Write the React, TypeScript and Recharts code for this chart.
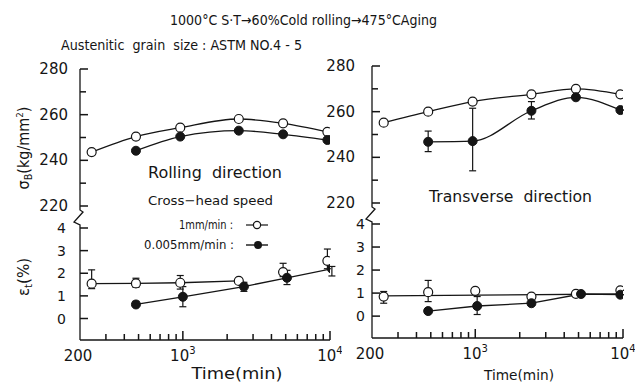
import React from 'react';
import { ComposedChart, Line, XAxis, YAxis, ErrorBar } from 'recharts';

const INK = '#151515';
const FONT = '"DejaVu Sans", "Liberation Sans", sans-serif';

// axes
const timeTicks = [200, 300, 400, 500, 600, 700, 800, 900, 1000, 2000, 3000, 4000, 5000, 6000, 7000, 8000, 9000, 10000];
const timeLabels: Record<number, string> = { 200: '200', 1000: '3', 10000: '4' };
const sigmaTicks = [220, 230, 240, 250, 260, 270, 280];
const epsTicks = [0, 1, 2, 3, 4];

// Rolling direction, tensile strength
const rollOpenTime = [240, 480, 960, 2400, 4800, 9600];
const rollOpenSigma = [243.6, 250.4, 254.3, 258.1, 256.2, 252.5];
const rollFillTime = [480, 960, 2400, 4800, 9600];
const rollFillSigma = [244.2, 250.4, 253.0, 251.4, 248.9];

// Rolling direction, elongation
const rollOpenEpsTime = [240, 480, 960, 2400, 4800, 9600];
const rollOpenEps = [1.54, 1.55, 1.58, 1.66, 2.05, 2.55];
const rollOpenEpsLo = [1.32, 1.38, 1.3, 1.66, 1.85, 2.2];
const rollOpenEpsHi = [2.15, 1.78, 1.9, 1.66, 2.44, 3.07];
const rollFillEpsTime = [480, 1000, 2600, 5100, 10300];
const rollFillEps = [0.62, 0.96, 1.41, 1.8, 2.2];
const rollFillEpsLo = [0.62, 0.52, 1.2, 1.5, 1.88];
const rollFillEpsHi = [0.76, 1.41, 1.6, 2.13, 2.3];

// Transverse direction, tensile strength
const transOpenTime = [240, 480, 960, 2400, 4800, 9600];
const transOpenSigma = [255.2, 260.0, 264.4, 267.6, 270.0, 267.6];
const transFillTime = [480, 960, 2400, 4800, 9600];
const transFillSigma = [246.8, 247.1, 260.4, 266.3, 260.7];
const transFillSigmaLo = [242.5, 234.1, 256.8, 266.3, 260.7];
const transFillSigmaHi = [251.5, 261.5, 264.4, 266.3, 260.7];

// Transverse direction, elongation
const transOpenEpsTime = [240, 480, 1000, 2400, 4800, 9600];
const transOpenEps = [0.85, 1.04, 1.1, 0.85, 0.97, 1.12];
const transOpenEpsLo = [0.56, 0.63, 1.1, 0.85, 0.97, 1.12];
const transOpenEpsHi = [1.07, 1.55, 1.1, 0.85, 0.97, 1.12];
const transOpenFitTime = [240, 9600];
const transOpenFit = [0.88, 0.96];
const transFillEpsTime = [480, 1030, 2400, 5200, 9600];
const transFillEps = [0.22, 0.44, 0.56, 0.96, 0.93];
const transFillEpsLo = [0.22, 0.07, 0.56, 0.96, 0.93];
const transFillEpsHi = [0.22, 0.85, 0.56, 0.96, 0.93];

const pts = (t: number[], v: number[], lo?: number[], hi?: number[]) =>
  t.map((x, i) => ({
    t: x,
    v: v[i],
    err: lo && hi ? [Math.max(0, v[i] - lo[i]), Math.max(0, hi[i] - v[i])] : [0, 0],
  }));

const openDot = { r: 4.5, fill: '#fff', stroke: INK, strokeWidth: 1.2 };
const fillDot = { r: 4.5, fill: INK, stroke: INK, strokeWidth: 1 };

const YW = 50;

const makeYTick = (size: number, every: number, gap: number) => (props: any) => {
  const { x, y, payload } = props;
  const v = payload.value;
  const lab = v % every === 0;
  return (
    <g>
      <rect x={x} y={y - 0.75} width={lab ? 8 : 6} height={1.5} fill={INK} />
      {lab && (
        <text x={x - gap} y={y} textAnchor="end" dominantBaseline="central" fontSize={size} fontFamily={FONT} fill={INK}>
          {v}
        </text>
      )}
    </g>
  );
};

const XTick = (props: any) => {
  const { x, y, payload } = props;
  const v = payload.value;
  const lab = timeLabels[v];
  const h = v === 1000 || v === 10000 ? 9 : 6;
  return (
    <g>
      {v !== 200 && <rect x={x - 0.75} y={y - h} width={1.5} height={h} fill={INK} />}
      {lab === '200' && (
        <text x={x - 2} y={y + 21} textAnchor="middle" fontSize={15} fontFamily={FONT} fill={INK}>200</text>
      )}
      {lab && lab !== '200' && (
        <text x={x} y={y + 21} textAnchor="middle" fontSize={15} fontFamily={FONT} fill={INK}>
          10<tspan dy={-7} fontSize={10}>{lab}</tspan>
        </text>
      )}
    </g>
  );
};

type Series = { data: any[]; dot: any; line?: boolean; curve?: 'monotone' | 'linear'; err?: boolean };

function Panel(props: {
  left: number; top: number; plotW: number; plotH: number;
  domain: number[]; ticks: number[]; bottom: boolean; tick: any; series: Series[];
}) {
  const { left, top, plotW, plotH, domain, ticks, bottom, tick, series } = props;
  const xh = bottom ? 40 : 0;
  const axis = { stroke: INK, strokeWidth: 1.3 };
  return (
    <div style={{ position: 'absolute', left: left - YW, top: top - 8 }}>
      <ComposedChart width={YW + plotW + 12} height={8 + plotH + xh + 8} margin={{ top: 8, right: 12, bottom: 8, left: 0 }}>
        <XAxis
          type="number" dataKey="t" scale="log" domain={[200, 10000]} allowDataOverflow
          ticks={timeTicks} interval={0} hide={!bottom} height={xh}
          axisLine={axis} tickLine={false} tickSize={0} tickMargin={0} tick={<XTick />}
        />
        <YAxis
          type="number" domain={domain} allowDataOverflow ticks={ticks} interval={0} width={YW}
          axisLine={axis} tickLine={false} tickSize={0} tickMargin={0} tick={tick}
        />
        {series.map((s, i) => (
          <Line
            key={i}
            data={s.data}
            dataKey="v"
            type={s.curve || 'linear'}
            stroke={s.line === false ? 'none' : INK}
            strokeWidth={1.3}
            dot={s.dot}
            activeDot={false}
            isAnimationActive={false}
          >
            {s.err && <ErrorBar dataKey="err" width={3.5} stroke={INK} strokeWidth={1.2} direction="y" />}
          </Line>
        ))}
      </ComposedChart>
    </div>
  );
}

export default function App() {
  const txt = { fontFamily: FONT, fill: INK } as const;
  return (
    <div style={{ position: 'absolute', left: 0, top: 0, width: 637, height: 385, background: '#fff', overflow: 'hidden' }}>
      {/* Rolling direction */}
      <Panel
        left={80} top={69} plotW={250} plotH={137} domain={[220, 280]} ticks={sigmaTicks} bottom={false}
        tick={makeYTick(15, 20, 12)}
        series={[
          { data: pts(rollOpenTime, rollOpenSigma), dot: openDot, curve: 'monotone' },
          { data: pts(rollFillTime, rollFillSigma), dot: fillDot, curve: 'monotone' },
        ]}
      />
      <Panel
        left={80} top={228} plotW={250} plotH={112} domain={[-0.95, 4]} ticks={epsTicks} bottom
        tick={makeYTick(14, 1, 14)}
        series={[
          { data: pts(rollOpenEpsTime.slice(0, 4), rollOpenEps.slice(0, 4), rollOpenEpsLo.slice(0, 4), rollOpenEpsHi.slice(0, 4)), dot: openDot, err: true },
          { data: pts(rollOpenEpsTime.slice(4), rollOpenEps.slice(4), rollOpenEpsLo.slice(4), rollOpenEpsHi.slice(4)), dot: openDot, line: false, err: true },
          { data: pts(rollFillEpsTime, rollFillEps, rollFillEpsLo, rollFillEpsHi), dot: fillDot, err: true },
        ]}
      />
      {/* Transverse direction */}
      <Panel
        left={372} top={66} plotW={251} plotH={137} domain={[220, 280]} ticks={sigmaTicks} bottom={false}
        tick={makeYTick(15, 20, 17)}
        series={[
          { data: pts(transOpenTime, transOpenSigma), dot: openDot, curve: 'monotone' },
          { data: pts(transFillTime, transFillSigma, transFillSigmaLo, transFillSigmaHi), dot: fillDot, curve: 'monotone', err: true },
        ]}
      />
      <Panel
        left={372} top={224} plotW={251} plotH={114} domain={[-0.95, 4]} ticks={epsTicks} bottom
        tick={makeYTick(14, 1, 7)}
        series={[
          { data: pts(transOpenFitTime, transOpenFit), dot: false },
          { data: pts(transOpenEpsTime, transOpenEps, transOpenEpsLo, transOpenEpsHi), dot: openDot, line: false, err: true },
          { data: pts(transFillEpsTime, transFillEps, transFillEpsLo, transFillEpsHi), dot: fillDot, err: true },
        ]}
      />

      {/* annotations */}
      <svg width={637} height={385} style={{ position: 'absolute', left: 0, top: 0, pointerEvents: 'none' }}>
        <text x={170} y={25} fontSize={14} textLength={267} lengthAdjust="spacingAndGlyphs" {...txt}>
          1000°C S·T→60%Cold rolling→475°CAging
        </text>
        <text x={61} y={50} fontSize={14} textLength={241} lengthAdjust="spacingAndGlyphs" xmlSpace="preserve" {...txt}>
          Austenitic  grain  size : ASTM NO.4 - 5
        </text>

        <path d="M80 206 L80 210 L83 212 L74 222 L80 225 L80 228" fill="none" stroke={INK} strokeWidth={1.3} />
        <path d="M372 203 L372 207 L375 209 L366 219 L372 222 L372 224" fill="none" stroke={INK} strokeWidth={1.3} />

        <text transform="translate(29 148) rotate(-90)" textAnchor="middle" fontSize={15} textLength={83} lengthAdjust="spacingAndGlyphs" {...txt}>
          σ<tspan fontSize={10} dy={3}>B</tspan><tspan dy={-3}>(kg/mm</tspan><tspan fontSize={9} dy={-6}>2</tspan><tspan dy={6}>)</tspan>
        </text>
        <text transform="translate(29 277) rotate(-90)" textAnchor="middle" fontSize={15} {...txt}>
          ε<tspan fontSize={10} dy={3}>t</tspan><tspan dy={-3}>(%)</tspan>
        </text>

        <text x={148} y={178} fontSize={16} textLength={134} lengthAdjust="spacingAndGlyphs" xmlSpace="preserve" {...txt}>
          Rolling  direction
        </text>
        <text x={148} y={205} fontSize={13} textLength={125} lengthAdjust="spacingAndGlyphs" {...txt}>
          Cross−head  speed
        </text>
        <text x={179} y={229} fontSize={12} textLength={54} lengthAdjust="spacingAndGlyphs" {...txt}>
          1mm/min :
        </text>
        <line x1={246} x2={268} y1={225} y2={225} stroke={INK} strokeWidth={1.2} />
        <circle cx={257} cy={225} r={3.6} fill="#fff" stroke={INK} strokeWidth={1.2} />
        <text x={144} y={249} fontSize={12} textLength={90} lengthAdjust="spacingAndGlyphs" {...txt}>
          0.005mm/min :
        </text>
        <line x1={246} x2={268} y1={245} y2={245} stroke={INK} strokeWidth={1.4} />
        <circle cx={258} cy={245} r={4} fill={INK} />

        <text x={429} y={202} fontSize={16} textLength={163} lengthAdjust="spacingAndGlyphs" xmlSpace="preserve" {...txt}>
          Transverse  direction
        </text>

        <text x={237} y={379} textAnchor="middle" fontSize={16} textLength={91} lengthAdjust="spacingAndGlyphs" {...txt}>
          Time(min)
        </text>
        <text x={519} y={380} textAnchor="middle" fontSize={14} textLength={70} lengthAdjust="spacingAndGlyphs" {...txt}>
          Time(min)
        </text>
      </svg>
    </div>
  );
}
